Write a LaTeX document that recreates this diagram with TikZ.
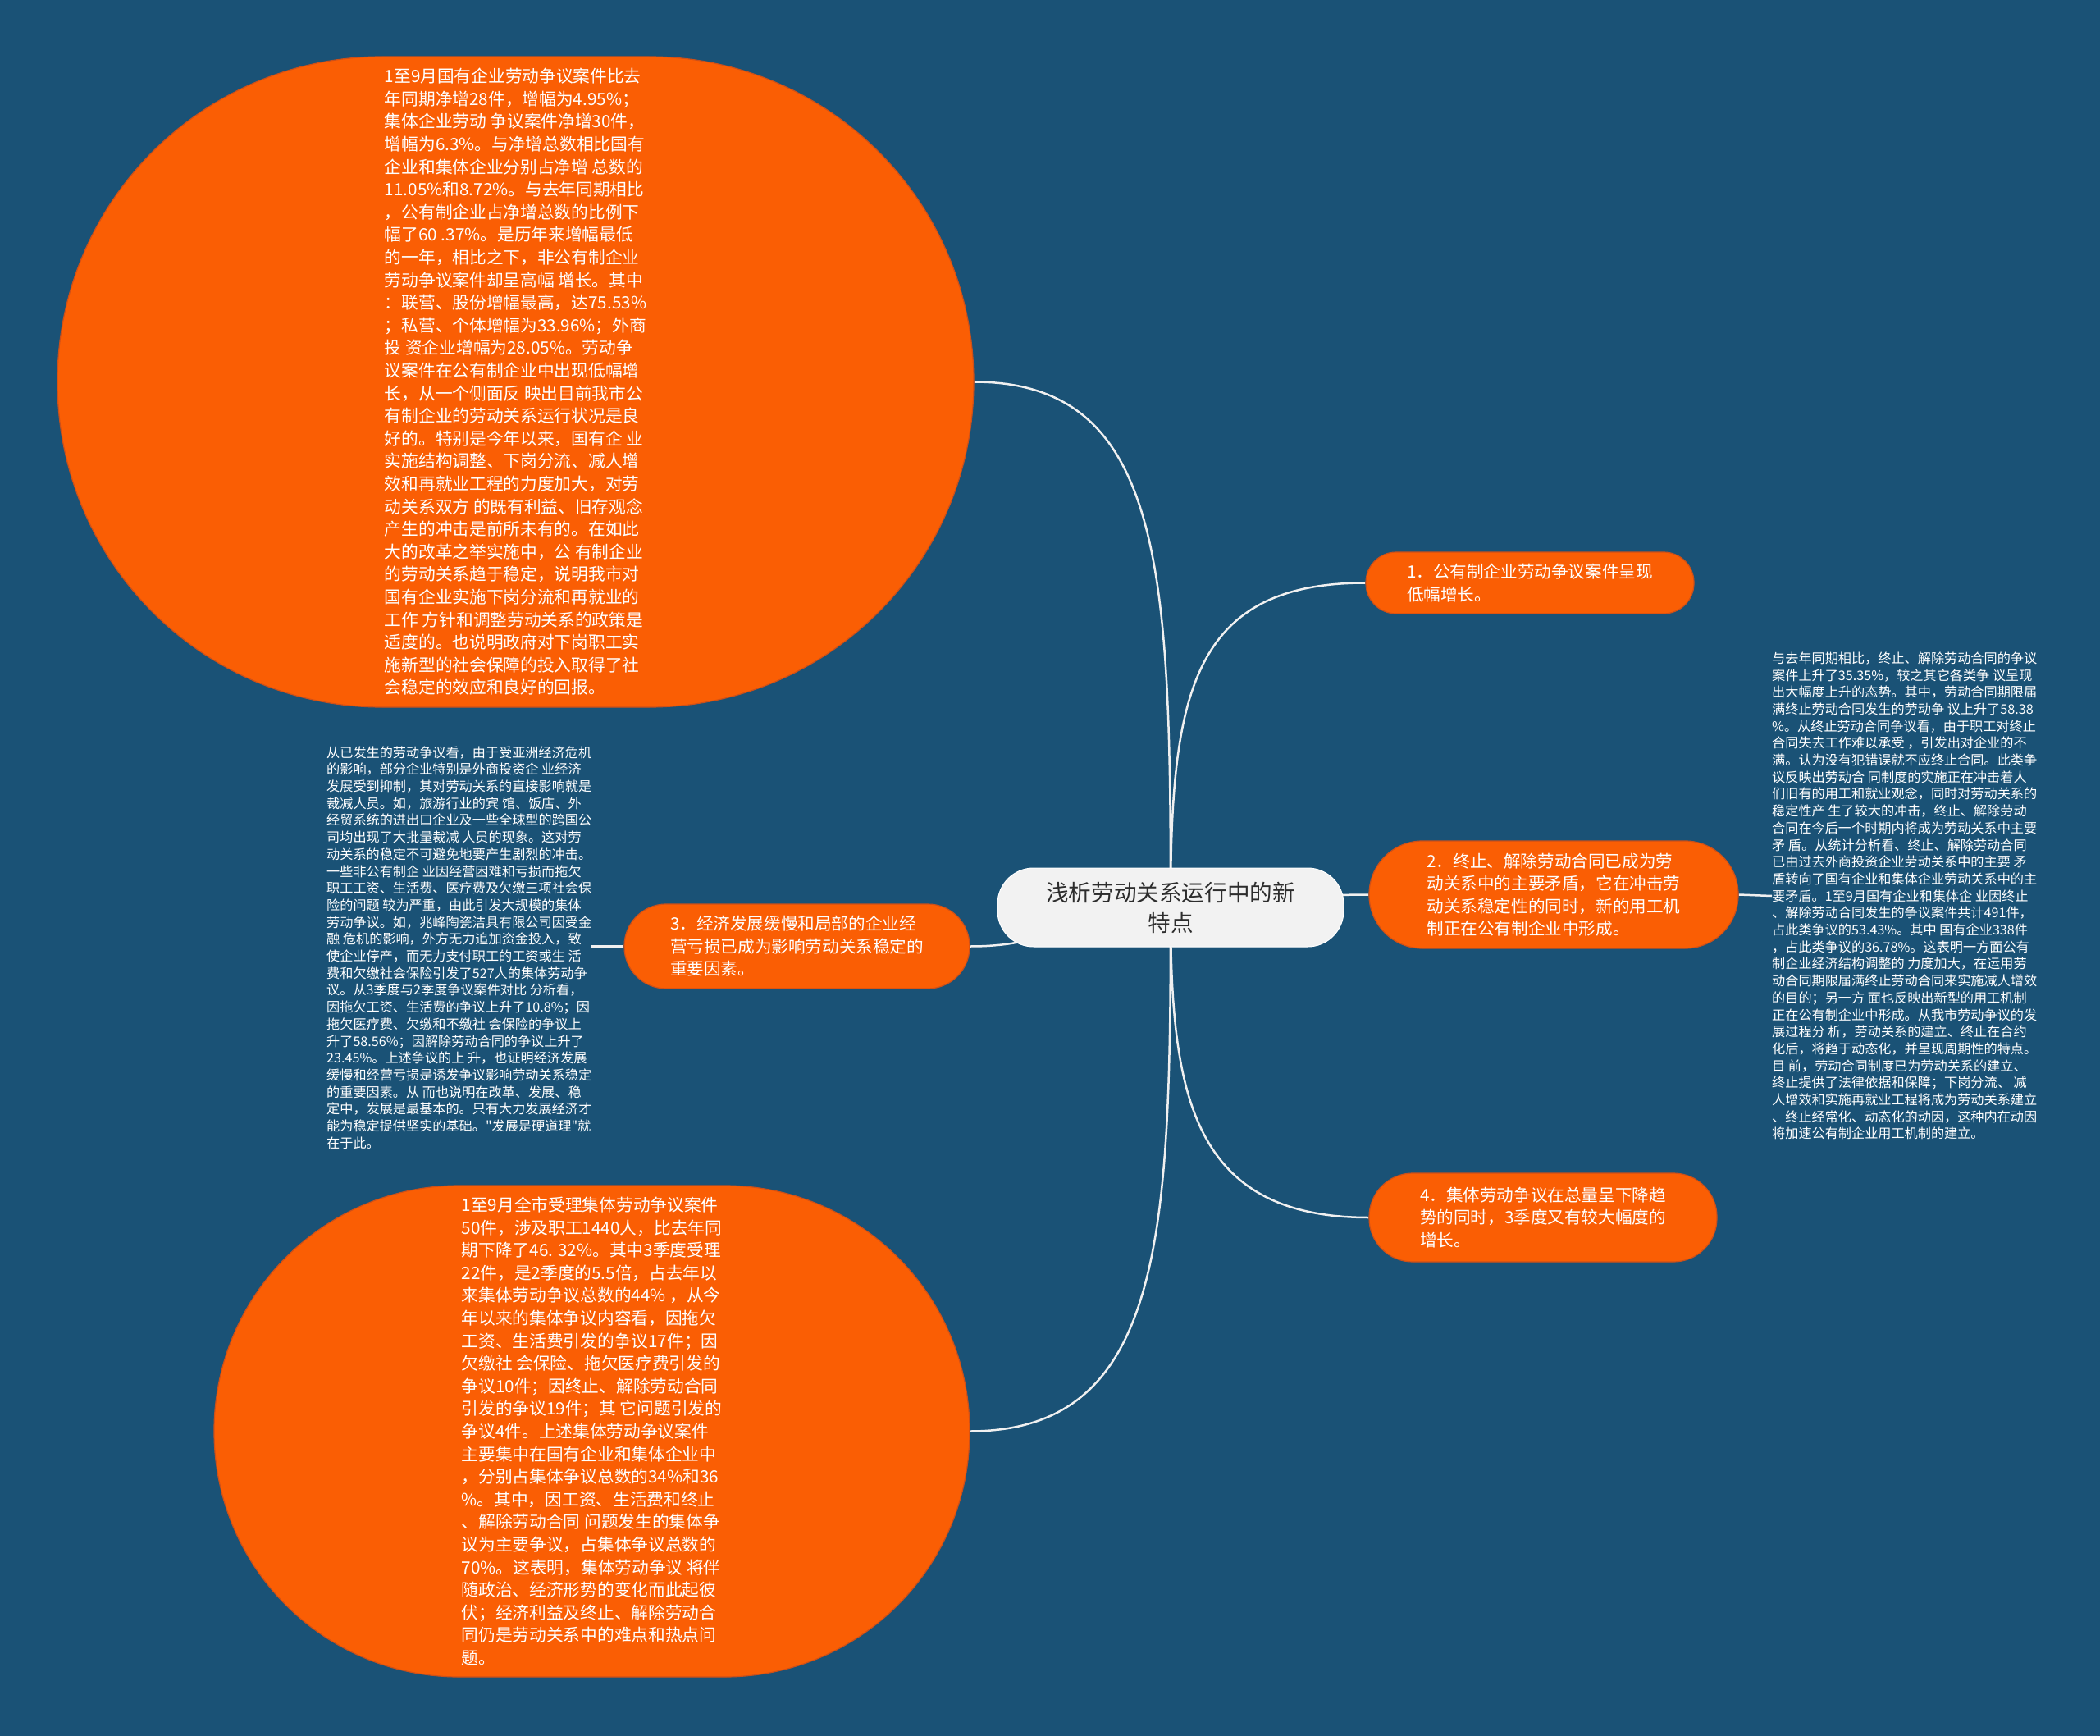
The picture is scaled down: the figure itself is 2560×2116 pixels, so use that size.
\documentclass[tikz,border=0pt]{standalone}
\usepackage{fontspec}
\setmainfont{Noto Sans CJK SC}
\newfontfamily\plaincjk{Noto Sans CJK SC}
\newcommand\myfs[2]{\fontsize{#1}{#2}\selectfont}
\newcommand\sq{{\plaincjk"}}
\definecolor{bgblue}{RGB}{26,82,118}
\definecolor{orangec}{RGB}{250,94,4}
\definecolor{orangedark}{RGB}{205,80,25}
\definecolor{centfill}{RGB}{242,242,242}
\definecolor{centtext}{RGB}{45,45,45}
\definecolor{linecol}{RGB}{240,240,240}
\pgfdeclarelayer{bglayer}
\pgfdeclarelayer{lines}
\pgfsetlayers{bglayer,lines,main}
\begin{document}
\begin{tikzpicture}[x=1pt,y=-1pt,
  conn/.style={draw=linecol,line width=2.5pt},
  centernode/.style={rectangle,rounded corners=44pt,fill=centfill,draw=white,line width=1pt,
    minimum width=422pt,minimum height=96pt,inner sep=0pt,align=center,text=centtext,
    font=\myfs{27.6}{37}},
  branch/.style={rectangle,fill=orangec,draw=orangedark,line width=1.2pt,inner sep=0pt,
    align=left,text=white,font=\myfs{20.6}{27.5}},
  bigdetail/.style={rectangle,fill=orangec,draw=orangedark,line width=1.2pt,inner sep=0pt,
    align=left,text=white,font=\myfs{20.7}{27.6}},
  plaindetail/.style={inner sep=0pt,align=left,text=white,font=\myfs{16.15}{20.7}}]
\useasboundingbox (0,0) rectangle (2560,2116);
\begin{pgfonlayer}{bglayer}
\fill[bgblue] (0,0) rectangle (2560,2116);
\end{pgfonlayer}

% central node
\node[centernode] (c) at (1427,1106) {浅析劳动关系运行中的新\\特点};

% branch nodes
\node[branch,minimum width=400pt,minimum height=75pt,rounded corners=37pt] (n1) at (1865,710.5)
  {1．公有制企业劳动争议案件呈现\\%
低幅增长。};
\node[branch,minimum width=450pt,minimum height=131pt,rounded corners=65pt] (n2) at (1894,1090.5)
  {2．终止、解除劳动合同已成为劳\\%
动关系中的主要矛盾，它在冲击劳\\%
动关系稳定性的同时，新的用工机\\%
制正在公有制企业中形成。};
\node[branch,minimum width=421pt,minimum height=103pt,rounded corners=51pt] (n3) at (971.5,1153.5)
  {3．经济发展缓慢和局部的企业经\\%
营亏损已成为影响劳动关系稳定的\\%
重要因素。};
\node[branch,minimum width=424pt,minimum height=108pt,rounded corners=53pt] (n4) at (1881,1484)
  {4．集体劳动争议在总量呈下降趋\\%
势的同时，3季度又有较大幅度的\\%
增长。};

% big detail capsules
\node[bigdetail,minimum width=1117pt,minimum height=793pt,rounded corners=396pt] (d1) at (628.5,465.5)
  {1至9月国有企业劳动争议案件比去\\%
年同期净增28件，增幅为4.95\%；\\%
集体企业劳动 争议案件净增30件，\\%
增幅为6.3\%。与净增总数相比国有\\%
企业和集体企业分别占净增 总数的\\%
11.05\%和8.72\%。与去年同期相比\\%
，公有制企业占净增总数的比例下\\%
幅了60 .37\%。是历年来增幅最低\\%
的一年，相比之下，非公有制企业\\%
劳动争议案件却呈高幅 增长。其中\\%
：联营、股份增幅最高，达75.53\%\\%
；私营、个体增幅为33.96\%；外商\\%
投 资企业增幅为28.05\%。劳动争\\%
议案件在公有制企业中出现低幅增\\%
长，从一个侧面反 映出目前我市公\\%
有制企业的劳动关系运行状况是良\\%
好的。特别是今年以来，国有企 业\\%
实施结构调整、下岗分流、减人增\\%
效和再就业工程的力度加大，对劳\\%
动关系双方 的既有利益、旧存观念\\%
产生的冲击是前所未有的。在如此\\%
大的改革之举实施中，公 有制企业\\%
的劳动关系趋于稳定，说明我市对\\%
国有企业实施下岗分流和再就业的\\%
工作 方针和调整劳动关系的政策是\\%
适度的。也说明政府对下岗职工实\\%
施新型的社会保障的投入取得了社\\%
会稳定的效应和良好的回报。};

\node[bigdetail,minimum width=921pt,minimum height=599pt,rounded corners=299pt] (d4) at (721.5,1744.5)
  {1至9月全市受理集体劳动争议案件\\%
50件，涉及职工1440人，比去年同\\%
期下降了46. 32\%。其中3季度受理\\%
22件，是2季度的5.5倍，占去年以\\%
来集体劳动争议总数的44\% ，从今\\%
年以来的集体争议内容看，因拖欠\\%
工资、生活费引发的争议17件；因\\%
欠缴社 会保险、拖欠医疗费引发的\\%
争议10件；因终止、解除劳动合同\\%
引发的争议19件；其 它问题引发的\\%
争议4件。上述集体劳动争议案件\\%
主要集中在国有企业和集体企业中\\%
，分别占集体争议总数的34\%和36\\%
\%。其中，因工资、生活费和终止\\%
、解除劳动合同 问题发生的集体争\\%
议为主要争议，占集体争议总数的\\%
70\%。这表明，集体劳动争议 将伴\\%
随政治、经济形势的变化而此起彼\\%
伏；经济利益及终止、解除劳动合\\%
同仍是劳动关系中的难点和热点问\\%
题。};

% plain text details
\node[plaindetail,anchor=west] (d3) at (398,1155)
  {从已发生的劳动争议看，由于受亚洲经济危机\\%
的影响，部分企业特别是外商投资企 业经济\\%
发展受到抑制，其对劳动关系的直接影响就是\\%
裁减人员。如，旅游行业的宾 馆、饭店、外\\%
经贸系统的进出口企业及一些全球型的跨国公\\%
司均出现了大批量裁减 人员的现象。这对劳\\%
动关系的稳定不可避免地要产生剧烈的冲击。\\%
一些非公有制企 业因经营困难和亏损而拖欠\\%
职工工资、生活费、医疗费及欠缴三项社会保\\%
险的问题 较为严重，由此引发大规模的集体\\%
劳动争议。如，兆峰陶瓷洁具有限公司因受金\\%
融 危机的影响，外方无力追加资金投入，致\\%
使企业停产，而无力支付职工的工资或生 活\\%
费和欠缴社会保险引发了527人的集体劳动争\\%
议。从3季度与2季度争议案件对比 分析看，\\%
因拖欠工资、生活费的争议上升了10.8\%；因\\%
拖欠医疗费、欠缴和不缴社 会保险的争议上\\%
升了58.56\%；因解除劳动合同的争议上升了\\%
23.45\%。上述争议的上 升，也证明经济发展\\%
缓慢和经营亏损是诱发争议影响劳动关系稳定\\%
的重要因素。从 而也说明在改革、发展、稳\\%
定中，发展是最基本的。只有大力发展经济才\\%
能为稳定提供坚实的基础。\sq 发展是硬道理\sq 就\\%
在于此。};

\node[plaindetail,anchor=west] (d2) at (2160,1092)
  {与去年同期相比，终止、解除劳动合同的争议\\%
案件上升了35.35\%，较之其它各类争 议呈现\\%
出大幅度上升的态势。其中，劳动合同期限届\\%
满终止劳动合同发生的劳动争 议上升了58.38\\%
\%。从终止劳动合同争议看，由于职工对终止\\%
合同失去工作难以承受 ，引发出对企业的不\\%
满。认为没有犯错误就不应终止合同。此类争\\%
议反映出劳动合 同制度的实施正在冲击着人\\%
们旧有的用工和就业观念，同时对劳动关系的\\%
稳定性产 生了较大的冲击，终止、解除劳动\\%
合同在今后一个时期内将成为劳动关系中主要\\%
矛 盾。从统计分析看、终止、解除劳动合同\\%
已由过去外商投资企业劳动关系中的主要 矛\\%
盾转向了国有企业和集体企业劳动关系中的主\\%
要矛盾。1至9月国有企业和集体企 业因终止\\%
、解除劳动合同发生的争议案件共计491件，\\%
占此类争议的53.43\%。其中 国有企业338件\\%
，占此类争议的36.78\%。这表明一方面公有\\%
制企业经济结构调整的 力度加大，在运用劳\\%
动合同期限届满终止劳动合同来实施减人增效\\%
的目的；另一方 面也反映出新型的用工机制\\%
正在公有制企业中形成。从我市劳动争议的发\\%
展过程分 析，劳动关系的建立、终止在合约\\%
化后，将趋于动态化，并呈现周期性的特点。\\%
目 前，劳动合同制度已为劳动关系的建立、\\%
终止提供了法律依据和保障；下岗分流、 减\\%
人增效和实施再就业工程将成为劳动关系建立\\%
、终止经常化、动态化的动因，这种内在动因\\%
将加速公有制企业用工机制的建立。};

% connectors
\begin{pgfonlayer}{lines}
\draw[conn] (c.center) .. controls (1427,700) and (1420,465.5) .. (d1.east);
\draw[conn] (c.center) .. controls (1427,850) and (1450,710.5) .. (n1.west);
\draw[conn] (c.center) .. controls (1550,1106) and (1550,1090.5) .. (n2.west);
\draw[conn] (c.center) .. controls (1300,1106) and (1300,1153.5) .. (n3.east);
\draw[conn] (c.center) .. controls (1427,1330) and (1450,1484) .. (n4.west);
\draw[conn] (c.center) .. controls (1427,1500) and (1420,1744.5) .. (d4.east);
\draw[conn] (n2.east) -- (d2.west);
\draw[conn] (n3.west) -- (n3.west -| d3.east);
\end{pgfonlayer}
\end{tikzpicture}
\end{document}
